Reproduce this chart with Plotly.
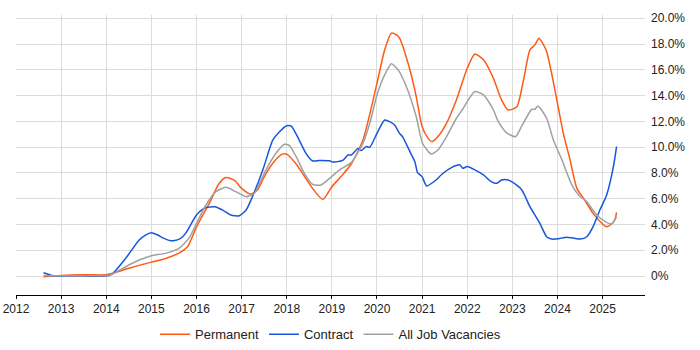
import plotly.graph_objects as go

perm_x = [2012.61, 2013.0, 2013.5, 2014.0, 2014.13, 2014.5, 2015.0, 2015.2, 2015.6, 2015.8, 2016.0, 2016.3, 2016.5, 2016.65, 2016.85,
          2017.0, 2017.2, 2017.35, 2017.5, 2017.7, 2017.9, 2018.0, 2018.2, 2018.4, 2018.6, 2018.8, 2019.0, 2019.2, 2019.43,
          2019.69, 2020.0, 2020.17, 2020.32, 2020.43, 2020.5, 2020.73, 2020.87, 2021.0, 2021.13, 2021.22, 2021.35, 2021.54,
          2021.76, 2022.0, 2022.17, 2022.36, 2022.58, 2022.76, 2022.91, 2023.1, 2023.24, 2023.39, 2023.5, 2023.59, 2023.67,
          2023.76, 2023.87, 2024.0, 2024.13, 2024.28, 2024.43, 2024.58, 2024.79, 2025.0, 2025.09, 2025.2, 2025.27, 2025.31]
perm_y = [-0.05, 0.05, 0.1, 0.1, 0.2, 0.6, 1.08, 1.24, 1.76, 2.27, 3.82, 5.76, 7.18, 7.65, 7.4,
          6.8, 6.36, 6.67, 7.7, 8.79, 9.46, 9.46, 8.73, 7.7, 6.67, 5.94, 6.93, 7.7, 8.69,
          10.56, 14.95, 17.54, 18.84, 18.7, 18.45, 16.0, 13.92, 11.6, 10.7, 10.43, 10.82, 11.85,
          13.66, 16.12, 17.23, 16.77, 15.34, 13.66, 12.88, 13.14, 15.08, 17.54, 17.93, 18.45, 18.06,
          17.41, 15.73, 13.4, 11.07, 9.0, 6.8, 6.03, 4.86, 4.04, 3.83, 4.04, 4.35, 4.94]

cont_x = [2012.61, 2012.8, 2013.0, 2013.5, 2014.0, 2014.13, 2014.43, 2014.73, 2014.87, 2015.0, 2015.13, 2015.28, 2015.43,
          2015.61, 2015.76, 2016.0, 2016.17, 2016.41, 2016.58, 2016.76, 2016.95, 2017.1, 2017.24, 2017.47, 2017.69, 2017.84,
          2018.0, 2018.1, 2018.24, 2018.43, 2018.57, 2018.72, 2018.95, 2019.02, 2019.24, 2019.36, 2019.43, 2019.58, 2019.65,
          2019.76, 2019.84, 2020.0, 2020.17, 2020.28, 2020.39, 2020.5, 2020.57, 2020.73, 2020.84, 2020.9, 2021.0, 2021.1,
          2021.31, 2021.42, 2021.65, 2021.84, 2021.9, 2022.0, 2022.17, 2022.36, 2022.5, 2022.65, 2022.76, 2022.91, 2023.02,
          2023.21, 2023.39, 2023.61, 2023.76, 2023.87, 2024.02, 2024.17, 2024.35, 2024.5, 2024.65, 2024.79, 2024.94, 2025.09,
          2025.24, 2025.31]
cont_y = [0.26, 0.05, 0.0, 0.0, 0.0, 0.15, 1.37, 2.79, 3.18, 3.36, 3.2, 2.92, 2.74,
          2.84, 3.31, 4.73, 5.25, 5.38, 5.12, 4.73, 4.68, 5.12, 6.16, 8.23, 10.54, 11.2,
          11.66, 11.63, 10.8, 9.5, 8.94, 8.97, 8.94, 8.84, 8.97, 9.4, 9.39, 9.9, 9.73,
          10.04, 9.99, 11.07, 12.1, 11.98, 11.72, 11.07, 10.8, 9.65, 8.87, 8.02, 7.71, 6.99,
          7.45, 7.84, 8.41, 8.62, 8.36, 8.49, 8.23, 7.84, 7.4, 7.19, 7.45, 7.45, 7.24,
          6.68, 5.38, 4.09, 3.05, 2.87, 2.9, 3.0, 2.95, 2.87, 3.05, 3.83, 5.12, 6.29,
          8.49, 10.04]

all_x = [2012.61, 2013.0, 2013.5, 2014.0, 2014.13, 2014.43, 2014.73, 2015.0, 2015.31, 2015.61, 2015.83, 2016.0, 2016.21,
         2016.43, 2016.65, 2016.87, 2017.1, 2017.28, 2017.54, 2017.76, 2017.95, 2018.06, 2018.21, 2018.39, 2018.57, 2018.76,
         2018.95, 2019.17, 2019.43, 2019.69, 2019.84, 2020.0, 2020.17, 2020.32, 2020.47, 2020.65, 2020.87, 2021.01, 2021.2,
         2021.35, 2021.54, 2021.76, 2021.9, 2022.0, 2022.17, 2022.36, 2022.58, 2022.69, 2022.87, 2023.07, 2023.21, 2023.43,
         2023.5, 2023.57, 2023.76, 2023.91, 2024.1, 2024.32, 2024.47, 2024.65, 2024.87, 2025.06, 2025.2, 2025.31]
all_y = [0.05, 0.02, 0.02, 0.03, 0.15, 0.72, 1.24, 1.58, 1.76, 2.15, 2.92, 4.09, 5.51,
         6.55, 6.88, 6.55, 6.16, 6.42, 8.23, 9.52, 10.22, 10.12, 9.26, 7.97, 7.12, 7.06,
         7.58, 8.23, 8.8, 10.3, 11.85, 14.05, 15.6, 16.46, 15.99, 14.7, 12.37, 10.3, 9.47,
         9.78, 10.8, 12.24, 12.94, 13.53, 14.31, 14.05, 12.88, 11.98, 11.13, 10.81, 11.64, 12.94,
         12.94, 13.2, 12.24, 10.56, 9.0, 7.06, 6.29, 5.77, 4.73, 4.22, 4.04, 4.61]

year_ticks = list(range(2012, 2026))
pct_ticks = [0, 2, 4, 6, 8, 10, 12, 14, 16, 18, 20]
pct_labels = ["0%"] + [f"{v:.1f}%" for v in pct_ticks[1:]]

fig = go.Figure()
fig.add_trace(go.Scatter(x=perm_x, y=perm_y, name="Permanent", mode="lines",
                         line=dict(color="#FF5A14", width=1.5, shape="spline", smoothing=0.6)))
fig.add_trace(go.Scatter(x=cont_x, y=cont_y, name="Contract", mode="lines",
                         line=dict(color="#1656DC", width=1.5, shape="spline", smoothing=0.6)))
fig.add_trace(go.Scatter(x=all_x, y=all_y, name="All Job Vacancies", mode="lines",
                         line=dict(color="#A0A0A0", width=1.5, shape="spline", smoothing=0.6)))

fig.update_layout(
    width=700, height=350,
    margin=dict(l=16, r=55, t=15, b=55, autoexpand=False),
    paper_bgcolor="white", plot_bgcolor="white",
    font=dict(family="Liberation Sans, Arial, sans-serif", size=12, color="#222"),
    showlegend=True,
    legend=dict(orientation="h", x=0.5, xanchor="center", y=-0.14, yanchor="middle",
                font=dict(size=13), traceorder="normal"),
)
fig.update_xaxes(range=[2012, 2025.94], tickvals=year_ticks, ticktext=[str(y) for y in year_ticks],
                 showgrid=True, gridcolor="#dcdcdc", gridwidth=1, automargin=False,
                 showline=True, linecolor="black", linewidth=1, ticklabeloverflow="allow",
                 ticks="outside", ticklen=3, tickcolor="black", zeroline=False)
fig.update_yaxes(range=[-1.47, 20.25], side="right", tickvals=pct_ticks, ticktext=pct_labels,
                 showgrid=True, gridcolor="#dcdcdc", gridwidth=1, zeroline=False, automargin=False,
                 showline=False, ticks="", ticklabelstandoff=5)

fig.write_html("out.html", config={"displayModeBar": False},
               post_script="document.body.style.margin='0';")
